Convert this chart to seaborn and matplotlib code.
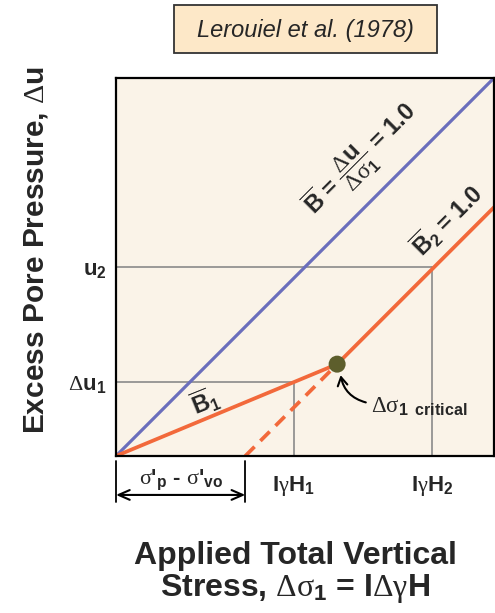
import matplotlib
matplotlib.use("Agg")
import matplotlib.pyplot as plt
from matplotlib.patches import Rectangle
import seaborn as sns

# values, both axes scaled 0-100
precon = 34.2      # sigma'p - sigma'vo
crit_x = 58.5      # delta sigma_1 critical
crit_u = 24.3
h1 = 47.0
du1 = 19.6
h2 = 83.6
u2 = 50.0

b_x = [0, 100]
b_y = [0, 100]
b1_x = [0, crit_x]
b1_y = [0, crit_u]
b2_x = [crit_x, 100]
b2_y = [crit_u, 100 - precon]
dash_x = [precon, crit_x]
dash_y = [0, crit_u]

xtick_pos = [h1, h2]
xtick_labels = [r"I$\gamma$H$_\mathbf{1}$", r"I$\gamma$H$_\mathbf{2}$"]
ytick_pos = [du1, u2]
ytick_labels = [r"$\Delta$u$_\mathbf{1}$", r"u$_\mathbf{2}$"]

blue = "#6B6EBC"
orange = "#F2693B"
grey = "#8A8A8A"

sns.set_style("white")
plt.rcParams["font.family"] = ["Liberation Sans", "DejaVu Sans"]
plt.rcParams["mathtext.fontset"] = "custom"
plt.rcParams["mathtext.rm"] = "Liberation Serif"
plt.rcParams["mathtext.it"] = "Liberation Serif:italic"
plt.rcParams["mathtext.bf"] = "Liberation Sans:bold"
plt.rcParams["mathtext.default"] = "rm"

fig = plt.figure(figsize=(4.95, 6.13), dpi=100)
ax = fig.add_axes([116 / 495, 1 - 456 / 613, 378 / 495, 378 / 613])
ax.set_facecolor("#FAF3E8")

def seg(x, y, **kw):
    sns.lineplot(x=x, y=y, estimator=None, sort=False, ax=ax, **kw)

# guide lines
seg([0, h1], [du1, du1], color=grey, lw=1.2)
seg([h1, h1], [0, du1], color=grey, lw=1.2)
seg([0, h2], [u2, u2], color=grey, lw=1.2)
seg([h2, h2], [0, u2], color=grey, lw=1.2)

seg(b_x, b_y, color=blue, lw=2.3)
seg(dash_x, dash_y, color=orange, lw=2.7, linestyle=(0, (3.5, 2.2)))
seg(b1_x, b1_y, color=orange, lw=2.7, solid_capstyle="butt")
seg(b2_x, b2_y, color=orange, lw=2.7)
sns.scatterplot(x=[crit_x], y=[crit_u], color="#5D5E2C", s=150, ax=ax,
                edgecolor="none", zorder=5)

ax.set_xlim(0, 100)
ax.set_ylim(0, 100)
ax.set_xticks(xtick_pos, xtick_labels, fontsize=16, fontweight="bold")
ax.set_yticks(ytick_pos, ytick_labels, fontsize=16, fontweight="bold")
ax.tick_params(axis="both", length=0)
ax.tick_params(axis="x", pad=13)
ax.tick_params(axis="y", pad=7)
for s in ax.spines.values():
    s.set_color("black")
    s.set_linewidth(1.6)

# line labels
ax.text(65.1, 78.3, r"$\overline{\mathbf{B}}$ = $\dfrac{\Delta\mathbf{u}}{\Delta\sigma_\mathbf{1}}$ = 1.0",
        rotation=45, rotation_mode="anchor", ha="center", va="center",
        fontsize=17, fontweight="bold")
ax.text(87.6, 62.4, r"$\overline{\mathbf{B}}_\mathbf{2}$ = 1.0",
        rotation=45, rotation_mode="anchor", ha="center", va="center",
        fontsize=17, fontweight="bold")
ax.text(23.5, 14.3, r"$\overline{\mathbf{B}}_\mathbf{1}$",
        rotation=22, rotation_mode="anchor", ha="center", va="center",
        fontsize=17, fontweight="bold")
ax.text(67.5, 11.4, r"$\Delta\sigma_{\mathbf{1\ \ critical}}$",
        ha="left", va="baseline", fontsize=16.5)
ax.annotate("", xy=(crit_x + 0.8, crit_u - 2.2), xytext=(66.8, 14.0),
            arrowprops=dict(arrowstyle="->,head_length=0.6,head_width=0.35",
                            color="black", lw=1.5,
                            connectionstyle="arc3,rad=-0.35"))

# preconsolidation bracket under the axis
for xv in [0, precon]:
    ax.plot([xv, xv], [-1.2, -12.2], color="black", lw=1.3, clip_on=False)
ax.annotate("", xy=(0, -10.3), xytext=(precon, -10.3),
            arrowprops=dict(arrowstyle="<->,head_length=0.8,head_width=0.35",
                            color="black", lw=1.5, shrinkA=0, shrinkB=0),
            annotation_clip=False)
ax.text(precon / 2, -6.4, r"$\sigma$'$_\mathbf{p}$ - $\sigma$'$_\mathbf{vo}$",
        ha="center", va="center", fontsize=16, fontweight="bold")

# axis titles
fig.text(36 / 495, 1 - 250 / 613, r"Excess Pore Pressure, $\Delta$u",
         rotation=90, ha="center", va="center", fontsize=21.5, fontweight="bold")
fig.text(295 / 495, 1 - 573 / 613,
         "Applied Total Vertical\n" + r"Stress, $\Delta\sigma_\mathbf{1}$ = I$\Delta\gamma$H",
         ha="center", va="center", fontsize=23, fontweight="bold",
         linespacing=1.05)

# source box
fig.patches.append(Rectangle((174 / 495, 1 - 53 / 613), 263 / 495, 48 / 613,
                             transform=fig.transFigure, facecolor="#FDE8C8",
                             edgecolor="#333333", lw=1.3))
fig.text(305 / 495, 1 - 30 / 613, "Lerouiel et al. (1978)", style="italic",
         ha="center", va="center", fontsize=17)

fig.savefig("out.png", dpi=100)
